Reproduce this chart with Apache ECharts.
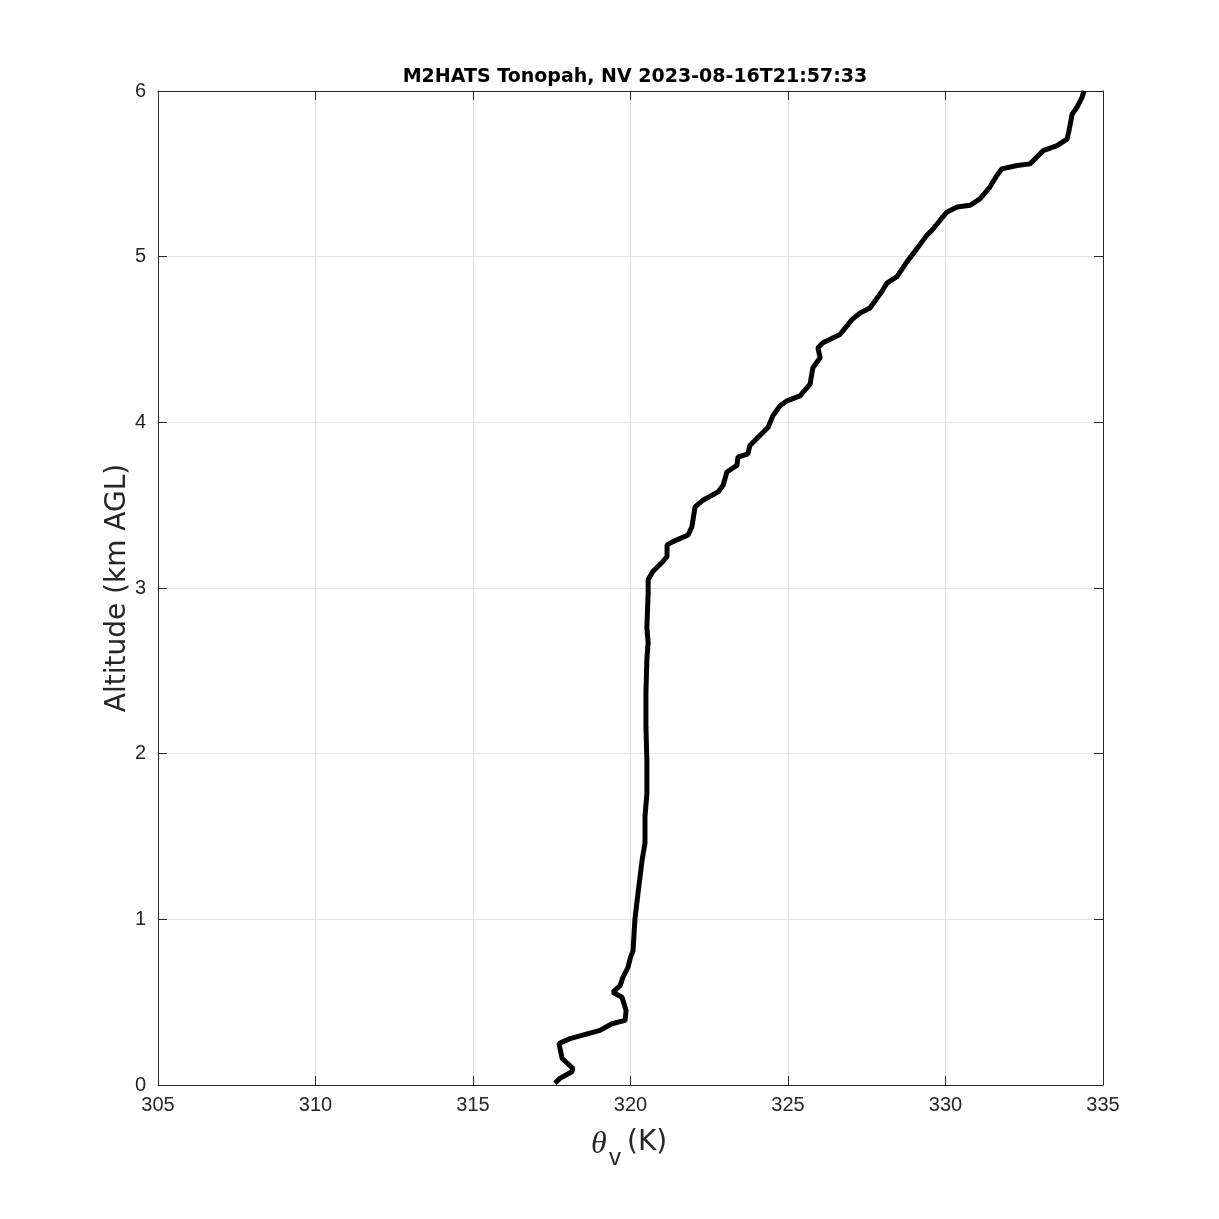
<!DOCTYPE html>
<html>
<head>
<meta charset="utf-8">
<script src="https://cdn.jsdelivr.net/npm/echarts@6/dist/echarts.min.js"></script>
<style>html,body{margin:0;padding:0;background:#fff}#c{width:1219px;height:1219px}</style>
</head>
<body>
<div id="c"></div>
<script>
// Virtual potential temperature (K)
const thetaV = [317.6,317.76,318.14,318.17,317.83,317.73,318.08,319.03,319.41,319.83,319.86,319.73,319.44,319.41,319.67,319.76,319.92,320.0,320.08,
 320.14,320.24,320.37,320.46,320.46,320.52,320.52,320.49,320.49,320.52,320.56,320.52,320.56,320.56,320.71,321.03,321.16,321.16,321.35,321.83,321.95,
 322.05,322.30,322.78,322.94,323.06,323.38,323.41,323.73,323.79,324.21,324.37,324.52,324.75,324.97,325.38,325.70,325.79,326.02,325.95,326.11,
 326.65,327.03,327.29,327.60,327.98,328.14,328.46,328.78,329.10,329.41,329.57,329.83,330.05,330.37,330.78,331.10,331.41,331.63,331.79,332.27,
 332.68,333.10,333.54,333.86,333.92,334.02,334.17,334.33,334.40];
// Altitude (km AGL)
const altitude = [0.01,0.04,0.08,0.10,0.16,0.25,0.28,0.33,0.37,0.39,0.45,0.53,0.56,0.57,0.60,0.65,0.71,0.77,0.81,
 1.0,1.16,1.36,1.46,1.62,1.76,1.96,2.16,2.37,2.57,2.67,2.76,2.97,3.05,3.10,3.16,3.19,3.26,3.28,3.32,3.37,
 3.49,3.53,3.58,3.62,3.70,3.74,3.79,3.81,3.86,3.94,3.97,4.04,4.10,4.13,4.16,4.23,4.33,4.39,4.45,4.48,
 4.53,4.62,4.66,4.69,4.79,4.84,4.88,4.97,5.05,5.13,5.16,5.22,5.27,5.30,5.31,5.35,5.42,5.49,5.53,5.55,
 5.56,5.64,5.67,5.71,5.76,5.86,5.90,5.96,6.0];
const titleText = 'M2HATS Tonopah, NV 2023-08-16T21:57:33';
const yName = 'Altitude (km AGL)';

const data = thetaV.map((v,i)=>[v, altitude[i]]);
const axCol = '#262626';
const font = 'Liberation Sans, Arial, Helvetica, sans-serif';
const wide = 'DejaVu Sans, Liberation Sans, sans-serif';
const chart = echarts.init(document.getElementById('c'), null, {renderer:'canvas'});
const baseX = {type:'value', min:305, max:335, interval:5};
const baseY = {type:'value', min:0, max:6, interval:1};
chart.setOption({
  animation:false,
  backgroundColor:'#fff',
  title:{text:titleText, left:630, top:63, textAlign:'center',
    textStyle:{fontFamily:wide, fontSize:19, fontWeight:'bold', color:'#000'}},
  grid:{left:158, right:116, top:91, bottom:134, containLabel:false},
  xAxis:[
    Object.assign({}, baseX, {position:'bottom',
      axisLine:{show:true, onZero:false, lineStyle:{color:axCol, width:1}},
      axisTick:{show:true, inside:true, length:9, lineStyle:{color:axCol}},
      axisLabel:{color:axCol, fontSize:20, fontFamily:font, margin:10},
      splitLine:{show:true, lineStyle:{color:'#e3e3e3', width:1}}}),
    Object.assign({}, baseX, {position:'top',
      axisLine:{show:true, onZero:false, lineStyle:{color:axCol, width:1}},
      axisTick:{show:true, inside:true, length:9, lineStyle:{color:axCol}},
      axisLabel:{show:false}, splitLine:{show:false}})
  ],
  yAxis:[
    Object.assign({}, baseY, {position:'left', name:yName, nameLocation:'middle', nameGap:26,
      nameMoveOverlap:false,
      nameTextStyle:{fontSize:28, color:axCol, fontFamily:wide},
      axisLine:{show:true, onZero:false, lineStyle:{color:axCol, width:1}},
      axisTick:{show:true, inside:true, length:9, lineStyle:{color:axCol}},
      axisLabel:{color:axCol, fontSize:20, fontFamily:font, margin:12},
      splitLine:{show:true, lineStyle:{color:'#e3e3e3', width:1}}}),
    Object.assign({}, baseY, {position:'right',
      axisLine:{show:true, onZero:false, lineStyle:{color:axCol, width:1}},
      axisTick:{show:true, inside:true, length:9, lineStyle:{color:axCol}},
      axisLabel:{show:false}, splitLine:{show:false}})
  ],
  graphic:[
    {type:'text', left:591, top:1129, style:{text:'θ', font:'italic 32px "Liberation Serif", serif', fill:axCol}},
    {type:'text', left:609, top:1146, style:{text:'v', font:'24px '+font, fill:axCol}},
    {type:'text', left:627, top:1129, style:{text:'(K)', font:'28px '+wide, fill:axCol}}
  ],
  series:[{
    type:'line', xAxisIndex:0, yAxisIndex:0, data:data, showSymbol:false,
    lineStyle:{color:'#000', width:5}, z:5
  }]
});
</script>
</body>
</html>
